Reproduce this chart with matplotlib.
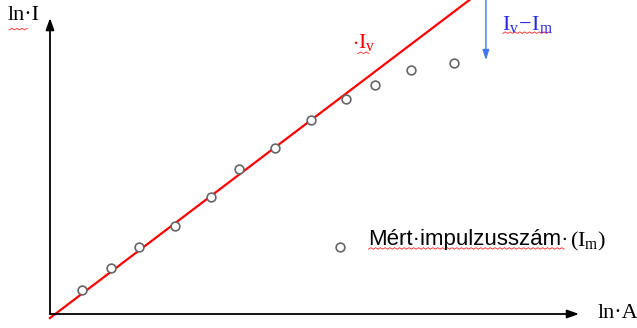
import numpy as np
import matplotlib.pyplot as plt

# measured counts (ln A, ln I)
ln_a = [0.60, 1.15, 1.68, 2.36, 3.04, 3.57, 4.25, 4.93, 5.60, 6.14, 6.82, 7.64]
ln_i = [0.81, 1.55, 2.26, 2.97, 3.95, 4.90, 5.61, 6.55, 7.28, 7.75, 8.24, 8.48]

# ideal (dead-time free) line
line_x = [0.0, 7.94]
line_intercept = -0.135
line_slope = 1.355

plt.rcParams['mathtext.fontset'] = 'custom'
plt.rcParams['mathtext.rm'] = 'Liberation Serif'
plt.rcParams['mathtext.it'] = 'Liberation Serif'

fig = plt.figure(figsize=(6.37, 3.28), dpi=100)
ax = fig.add_axes([0, 0, 1, 1])
ax.set_xlim(-0.945, 11.096)
ax.set_ylim(-0.473, 10.608)
ax.axis('off')


def squiggle(x0, x1, y, color='#ff4040'):
    xs = np.linspace(x0, x1, int((x1 - x0) / 0.045) + 1)
    ys = y + 0.05 * (np.arange(len(xs)) % 2)
    ax.plot(xs, ys, color=color, lw=0.7, solid_joinstyle='miter')


# axes with arrow heads
arrow = dict(arrowstyle='-|>,head_length=0.7,head_width=0.25', color='black', lw=1.3, shrinkA=0, shrinkB=0)
ax.annotate('', xy=(10.0, 0), xytext=(0, 0), arrowprops=arrow)
ax.annotate('', xy=(0, 10.0), xytext=(0, 0), arrowprops=arrow)

serif = 'Liberation Serif'
ax.text(-0.80, 10.08, 'ln·I', family=serif, fontsize=16, va='center', ha='left')
ax.text(10.35, 0.0, 'ln·A', family=serif, fontsize=16, va='center', ha='left')
squiggle(-0.77, -0.43, 9.60)

# fitted line
line_y = [line_intercept + line_slope * x for x in line_x]
ax.plot(line_x, line_y, color='#ff0000', lw=1.6, clip_on=False)
ax.text(5.70, 9.16, r'$\cdot\mathrm{I}_\mathrm{v}$', color='#ff0000', fontsize=16, va='center', ha='left')
squiggle(5.82, 6.03, 8.80)

# measured points
ax.plot(ln_a, ln_i, ls='none', marker='o', ms=6.3, mfc='white', mec='#666666', mew=1.2)

# difference arrow
ax.annotate('', xy=(8.24, 8.58), xytext=(8.24, 10.608),
            arrowprops=dict(arrowstyle='-|>,head_length=0.6,head_width=0.2', color='#3f7bef', lw=1.0,
                            shrinkA=0, shrinkB=0))
ax.text(8.55, 9.77, r'$\mathrm{I}_\mathrm{v}\!-\!\mathrm{I}_\mathrm{m}$', color='#2a2ae0', fontsize=16,
        va='center', ha='left')
squiggle(8.56, 9.43, 9.48)

# legend
ax.plot([5.48], [2.26], ls='none', marker='o', ms=6.3, mfc='white', mec='#666666', mew=1.2)
t = ax.text(6.02, 2.50, 'Mért·impulzusszám·', family='Liberation Sans', fontsize=16, va='center', ha='left')
ax.annotate(r'$(\mathrm{I}_\mathrm{m})$', xy=(1.0, 0.5), xycoords=t, xytext=(1, -1),
            textcoords='offset points', fontsize=16, va='center', ha='left')
squiggle(6.02, 9.72, 2.19)

fig.savefig('out.png', dpi=100)
